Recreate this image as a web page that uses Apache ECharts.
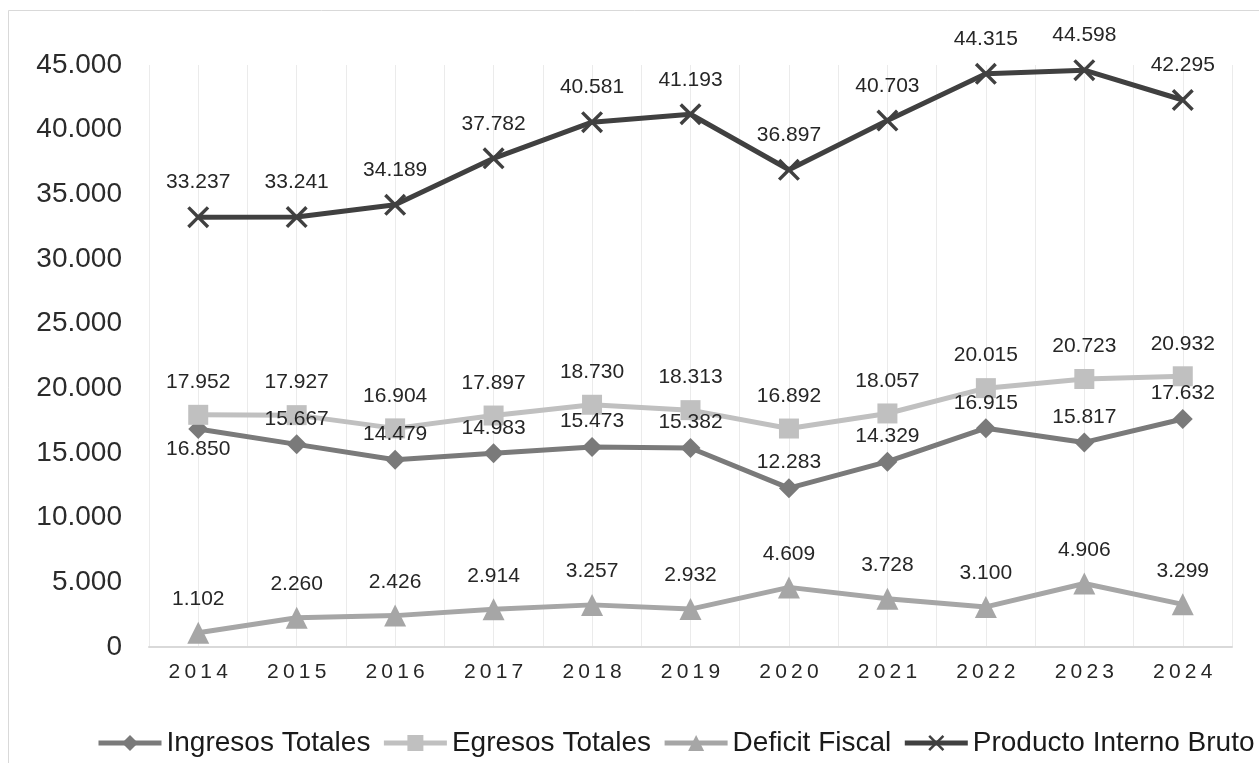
<!DOCTYPE html>
<html>
<head>
<meta charset="utf-8">
<script src="https://cdn.jsdelivr.net/npm/echarts@6/dist/echarts.min.js"></script>
<style>
html,body{margin:0;padding:0;background:#fff;}
#chart{width:1259px;height:763px;}
</style>
</head>
<body>
<div id="chart"></div>
<script>
const years = ['2014','2015','2016','2017','2018','2019','2020','2021','2022','2023','2024'];
const ingresosTotales = [16850,15667,14479,14983,15473,15382,12283,14329,16915,15817,17632];
const egresosTotales = [17952,17927,16904,17897,18730,18313,16892,18057,20015,20723,20932];
const deficitFiscal = [1102,2260,2426,2914,3257,2932,4609,3728,3100,4906,3299];
const pib = [33237,33241,34189,37782,40581,41193,36897,40703,44315,44598,42295];
const seriesNames = ['Ingresos Totales','Egresos Totales','Deficit Fiscal','Producto Interno Bruto'];

const fmt = v => String(v).replace(/\B(?=(\d{3})+(?!\d))/g, '.');
const FONT = '"Liberation Sans", Arial, sans-serif';
const xSymbol = 'path://M0,1.1 L1.1,0 L5,3.9 L8.9,0 L10,1.1 L6.1,5 L10,8.9 L8.9,10 L5,6.1 L1.1,10 L0,8.9 L3.9,5 Z';

const chart = echarts.init(document.getElementById('chart'));

function mkSeries(name, data, color, symbol, size, labelDist, firstBelow) {
  return {
    name: name,
    type: 'line',
    data: data.map((v, i) => (firstBelow && i === 0)
      ? {value: v, label: {position: 'bottom', distance: 0}}
      : v),
    xAxisIndex: 0,
    yAxisIndex: 0,
    symbol: symbol,
    symbolSize: size,
    showAllSymbol: true,
    lineStyle: {color: color, width: 5},
    itemStyle: {color: color},
    label: {
      show: true,
      position: 'top',
      distance: labelDist,
      formatter: p => fmt(p.value),
      fontFamily: FONT,
      fontSize: 21,
      color: '#262626'
    },
    emphasis: {disabled: true},
    animation: false
  };
}

chart.setOption({
  backgroundColor: '#fff',
  animation: false,
  graphic: [{
    type: 'rect',
    shape: {x: 8.5, y: 10.5, width: 1400, height: 900},
    style: {fill: 'none', stroke: '#d9d9d9', lineWidth: 1},
    silent: true,
    z: -10
  }],
  grid: {left: 149, right: 27, top: 65, bottom: 116, containLabel: false},
  legend: {
    data: seriesNames,
    left: 91,
    top: 724,
    width: 2000,
    itemWidth: 63,
    itemHeight: 20,
    itemGap: 11,
    lineStyle: {width: 5},
    textStyle: {fontFamily: FONT, fontSize: 28, color: '#1a1a1a'}
  },
  xAxis: [{
    type: 'category',
    data: years,
    boundaryGap: true,
    axisLine: {show: true, lineStyle: {color: '#d9d9d9', width: 2}},
    axisTick: {show: false},
    splitLine: {show: false},
    axisLabel: {
      fontFamily: FONT,
      fontSize: 21,
      color: '#262626',
      margin: 15,
      formatter: v => v.split('').join('\u2009')
    }
  }, {
    type: 'value',
    min: 0,
    max: 22,
    interval: 1,
    position: 'bottom',
    axisLine: {show: false},
    axisTick: {show: false},
    axisLabel: {show: false},
    splitLine: {show: true, lineStyle: {color: '#ebebeb', width: 1}}
  }],
  yAxis: {
    type: 'value',
    min: 0,
    max: 45000,
    interval: 5000,
    axisLine: {show: false},
    axisTick: {show: false},
    splitLine: {show: false},
    axisLabel: {
      fontFamily: FONT,
      fontSize: 28,
      color: '#2b2b2b',
      margin: 27,
      formatter: v => fmt(v)
    }
  },
  series: [
    mkSeries(seriesNames[0], ingresosTotales, '#7a7a7a', 'diamond', 20, 5, true),
    mkSeries(seriesNames[1], egresosTotales, '#c0c0c0', 'rect', 20, 12, false),
    mkSeries(seriesNames[2], deficitFiscal, '#a6a6a6', 'triangle', 22, 12, false),
    mkSeries(seriesNames[3], pib, '#404040', xSymbol, 22, 13, false)
  ]
});
</script>
</body>
</html>
